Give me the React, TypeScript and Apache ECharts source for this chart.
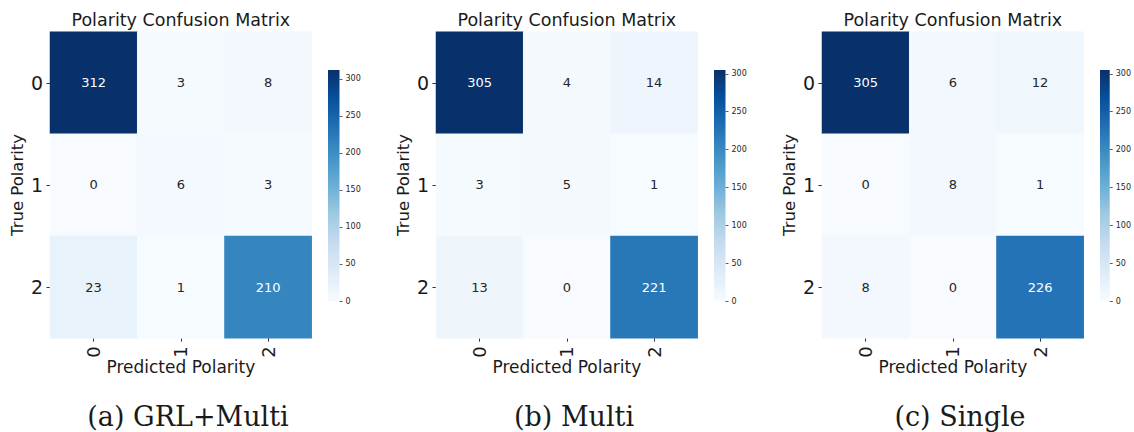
import React, { useEffect, useRef } from "react";
import * as echarts from "echarts";

const predictedLabels = ["0", "1", "2"];
const trueLabels = ["0", "1", "2"];
const colorbarTicks = [0, 50, 100, 150, 200, 250, 300];

const matrixGRLMulti = [
  [312, 3, 8],
  [0, 6, 3],
  [23, 1, 210],
];
const matrixMulti = [
  [305, 4, 14],
  [3, 5, 1],
  [13, 0, 221],
];
const matrixSingle = [
  [305, 6, 12],
  [0, 8, 1],
  [8, 0, 226],
];

const captions = ["(a) GRL+Multi", "(b) Multi", "(c) Single"];
const matrices = [matrixGRLMulti, matrixMulti, matrixSingle];
const chartTitle = "Polarity Confusion Matrix";
const xName = "Predicted Polarity";
const yName = "True Polarity";

const BLUES = [
  "#f7fbff",
  "#deebf7",
  "#c6dbef",
  "#9ecae1",
  "#6baed6",
  "#4292c6",
  "#2171b5",
  "#08519c",
  "#08306b",
];

const SANS = "DejaVu Sans";

export default function App() {
  const ref = useRef<HTMLDivElement>(null);
  useEffect(() => {
    if (!ref.current) return;
    const chart = echarts.init(ref.current, undefined, { renderer: "svg" });

    const step = 386;
    const hmLeft = 50;
    const hmTop = 31.7;
    const hmW = 261.7;
    const hmH = 306.5;
    const cbLeft = 328;
    const cbTop = 70;
    const cbW = 11.5;
    const cbH = 231;

    const grid: any[] = [];
    const xAxis: any[] = [];
    const yAxis: any[] = [];
    const series: any[] = [];
    const visualMap: any[] = [];
    const title: any[] = [];
    const graphic: any[] = [];

    const gradStops = BLUES.map((c, i) => ({
      offset: i / (BLUES.length - 1),
      color: c,
    })).reverse().map((s) => ({ offset: 1 - s.offset, color: s.color }));

    matrices.forEach((m, k) => {
      const off = k * step;
      const vmax = Math.max(...m.flat());
      grid.push({ left: hmLeft + off, top: hmTop, width: hmW, height: hmH });
      grid.push({ left: cbLeft + off, top: cbTop, width: cbW, height: cbH });

      xAxis.push({
        type: "category",
        gridIndex: 2 * k,
        data: predictedLabels,
        name: xName,
        nameLocation: "middle",
        nameGap: 20,
        nameMoveOverlap: false,
        nameTextStyle: { fontFamily: SANS, fontSize: 17, color: "#1a1a1a", verticalAlign: "top" },
        axisLine: { show: false },
        axisTick: { show: true, alignWithLabel: true, length: 3.5, lineStyle: { color: "#333", width: 1 } },
        axisLabel: { rotate: 90, fontFamily: SANS, fontSize: 18, color: "#1a1a1a", margin: 8 },
        splitLine: { show: false },
        splitArea: { show: false },
      });
      yAxis.push({
        type: "category",
        gridIndex: 2 * k,
        data: trueLabels,
        inverse: true,
        name: yName,
        nameLocation: "middle",
        nameGap: 24,
        nameRotate: 90,
        nameMoveOverlap: false,
        nameTextStyle: { fontFamily: SANS, fontSize: 16.5, color: "#1a1a1a" },
        axisLine: { show: false },
        axisTick: { show: true, alignWithLabel: true, length: 3.5, lineStyle: { color: "#333", width: 1 } },
        axisLabel: { fontFamily: SANS, fontSize: 19, color: "#1a1a1a", margin: 7 },
        splitLine: { show: false },
        splitArea: { show: false },
      });

      xAxis.push({
        type: "category",
        gridIndex: 2 * k + 1,
        data: ["cb"],
        show: false,
      });
      yAxis.push({
        type: "value",
        gridIndex: 2 * k + 1,
        min: 0,
        max: vmax,
        position: "right",
        axisLine: { show: false },
        splitLine: { show: false },
        axisTick: {
          show: true,
          length: 3,
          lineStyle: { color: "#333", width: 0.8 },
          customValues: colorbarTicks,
        },
        axisLabel: {
          fontFamily: SANS,
          fontSize: 8,
          color: "#262626",
          margin: 6,
          customValues: colorbarTicks,
        },
      });

      const data: any[] = [];
      m.forEach((row, r) => {
        row.forEach((v, c) => {
          data.push({
            value: [c, r, v],
            label: { color: v / vmax > 0.55 ? "#ffffff" : "#262626" },
          });
        });
      });

      series.push({
        type: "heatmap",
        xAxisIndex: 2 * k,
        yAxisIndex: 2 * k,
        data,
        label: { show: true, fontFamily: SANS, fontSize: 13 },
        itemStyle: { borderWidth: 0 },
        emphasis: { disabled: true },
      });
      visualMap.push({
        show: false,
        type: "continuous",
        seriesIndex: 2 * k,
        min: 0,
        max: vmax,
        inRange: { color: BLUES },
      });

      series.push({
        type: "bar",
        xAxisIndex: 2 * k + 1,
        yAxisIndex: 2 * k + 1,
        data: [vmax],
        barWidth: "100%",
        itemStyle: {
          color: new echarts.graphic.LinearGradient(0, 0, 0, 1, gradStops),
        },
        silent: true,
      });

      title.push({
        text: chartTitle,
        left: hmLeft + off + hmW / 2,
        top: 11,
        textAlign: "center",
        padding: 0,
        textStyle: { fontFamily: SANS, fontSize: 17.5, fontWeight: "normal", color: "#1a1a1a" },
      });

      graphic.push({
        type: "text",
        x: 188 + off,
        y: 416,
        style: {
          text: captions[k],
          fontFamily: "DejaVu Serif",
          fontSize: 27,
          fill: "#1a1a1a",
          align: "center",
          verticalAlign: "middle",
        },
      });
    });

    chart.setOption({
      animation: false,
      backgroundColor: "#ffffff",
      title,
      grid,
      xAxis,
      yAxis,
      visualMap,
      series,
      graphic,
    });
    return () => chart.dispose();
  }, []);
  return (
    <div
      ref={ref}
      style={{ position: "fixed", left: 0, top: 0, width: 1134, height: 432 }}
    />
  );
}
